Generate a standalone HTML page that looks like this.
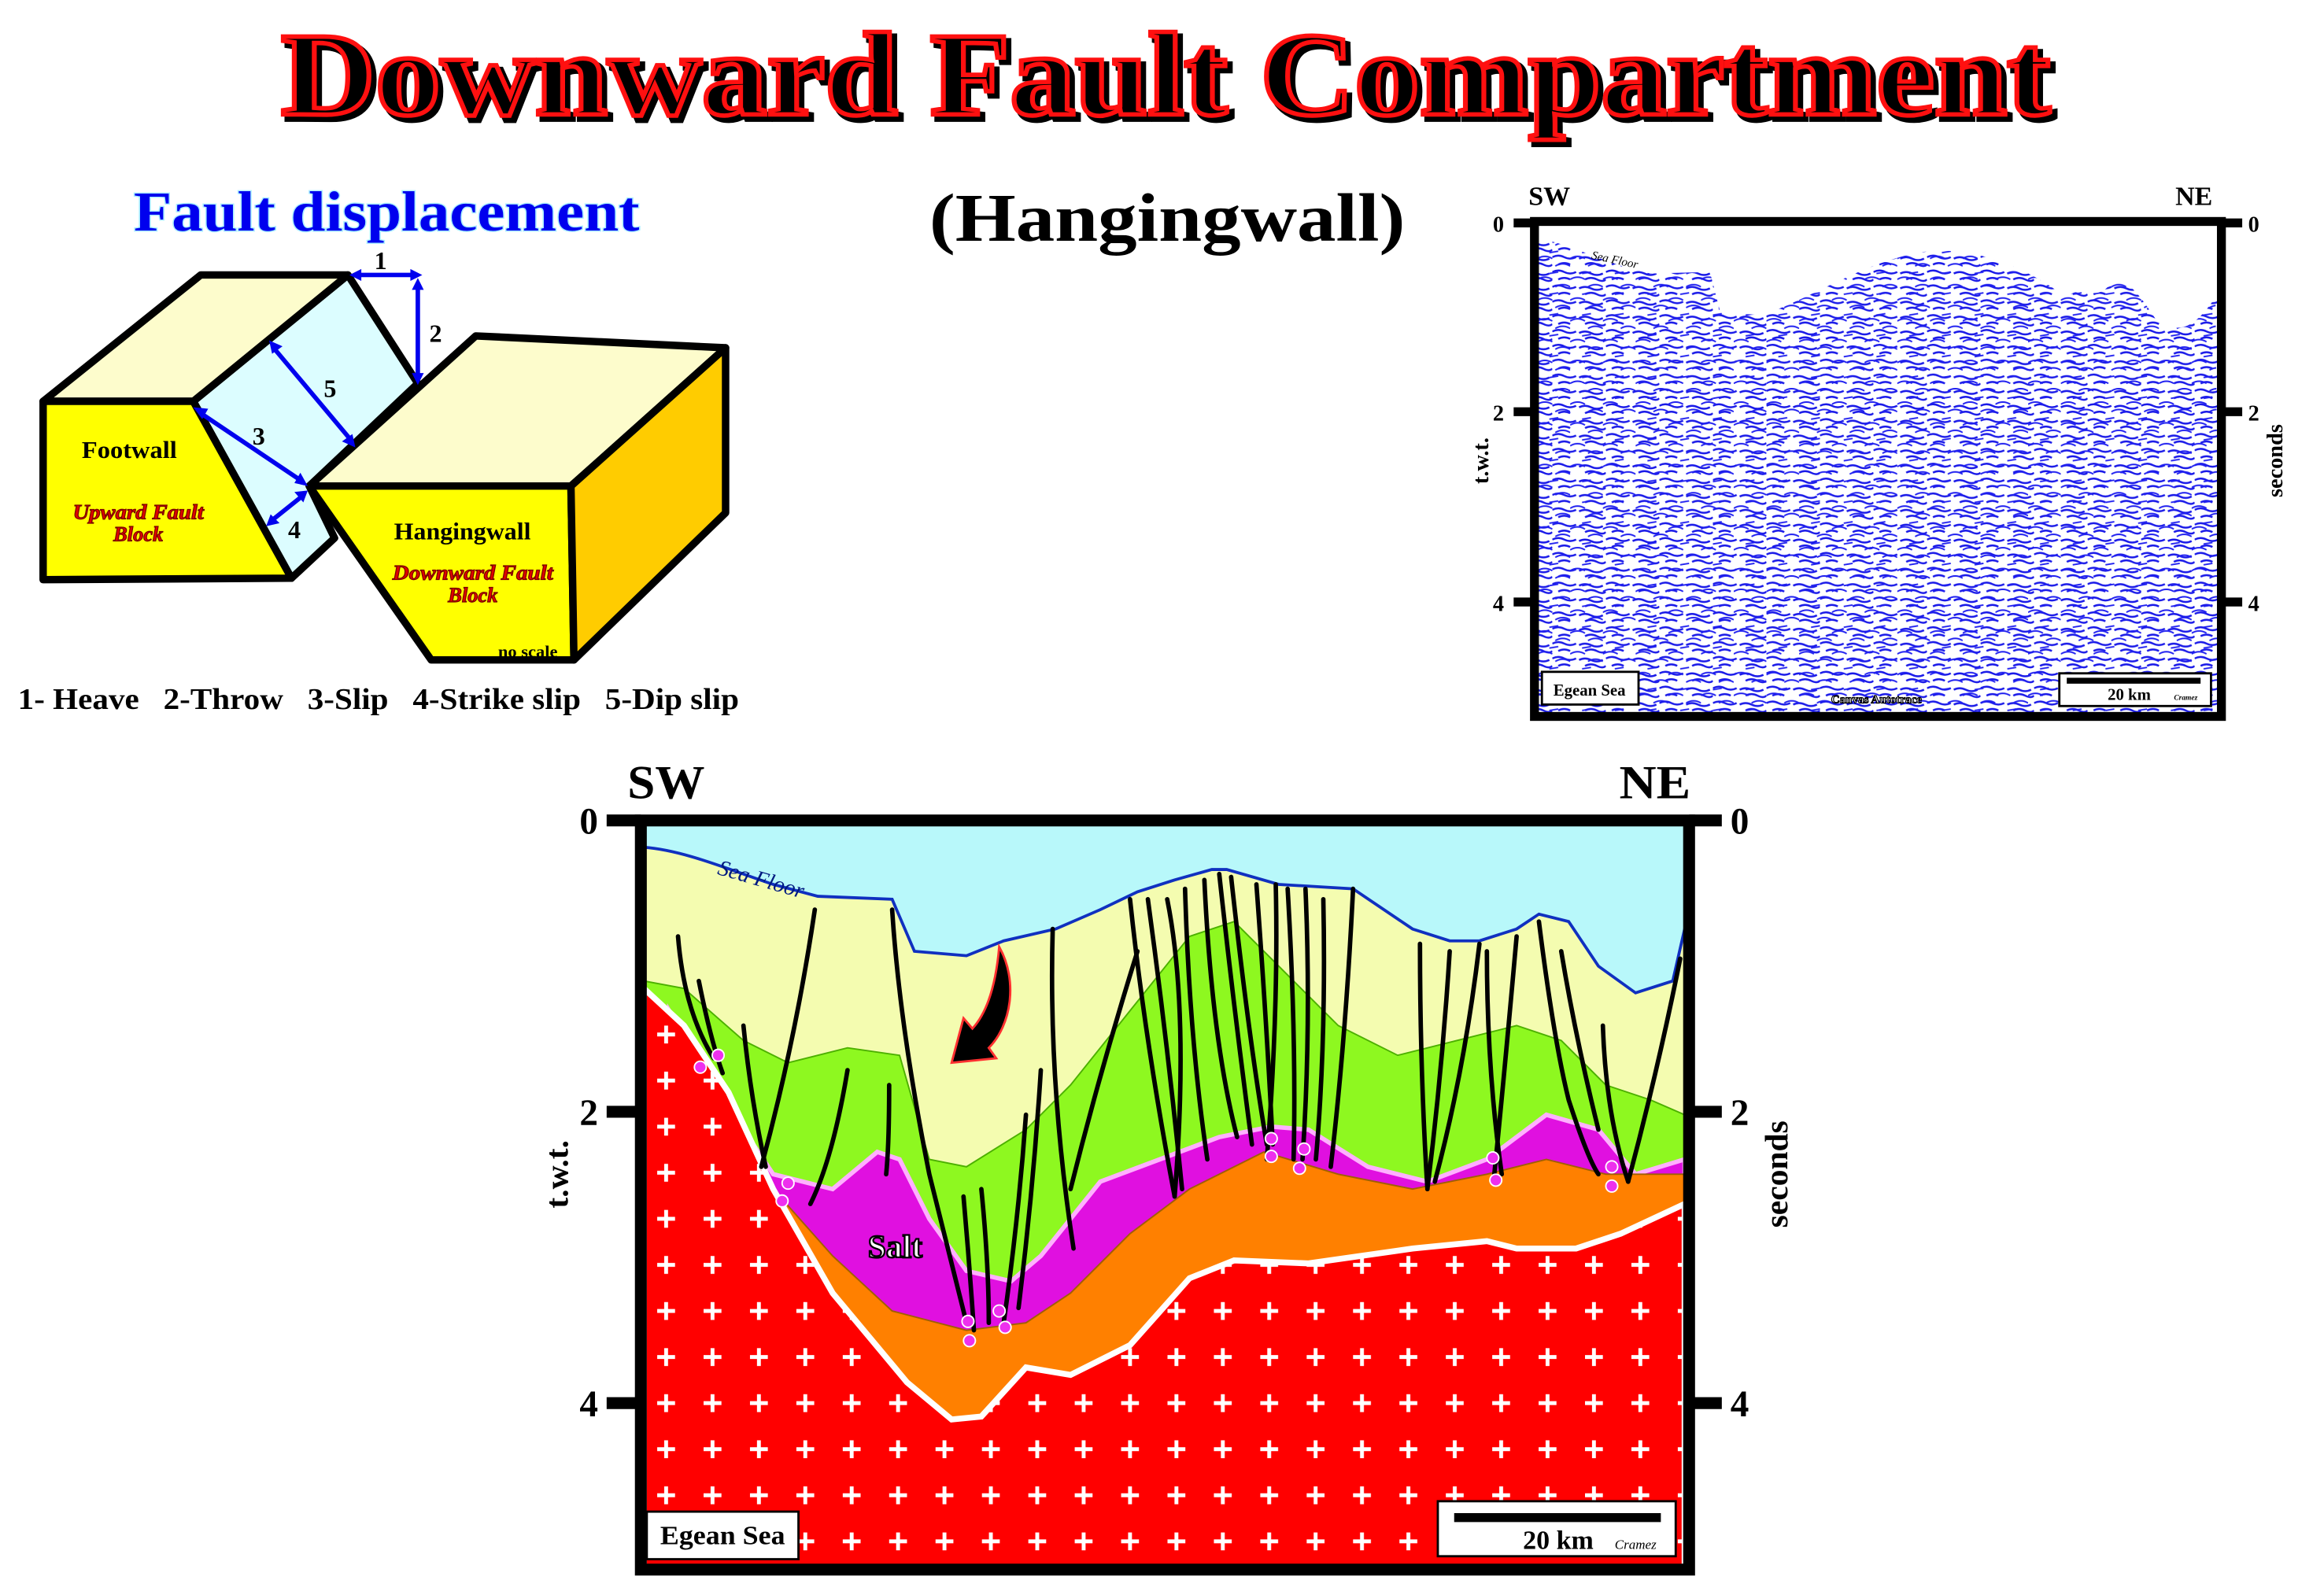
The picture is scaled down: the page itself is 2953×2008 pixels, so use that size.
<!DOCTYPE html>
<html><head><meta charset="utf-8"><style>html,body{margin:0;padding:0;background:#fff;}svg{display:block}</style></head>
<body>
<svg xmlns="http://www.w3.org/2000/svg" width="2953" height="2008" viewBox="0 0 1563 1063" preserveAspectRatio="none" font-family="'Liberation Serif', serif" font-weight="bold">
<defs>
<pattern id="plus" x="433" y="0" width="31.2" height="31" patternUnits="userSpaceOnUse">
<rect width="31.2" height="31" fill="#ff0000"/>
<path d="M9 14h12M15 8v12" stroke="#fff" stroke-width="2.6"/>
</pattern>
<pattern id="seis" width="36" height="10" patternUnits="userSpaceOnUse">
<rect width="36" height="10" fill="#fff"/>
<path d="M0 3 q4 -2 8 0 t8 0 M18 4 q4 -2 8 0 t8 0 M4 8 q4 -2 8 0 M22 8 q4 -2 8 0 t6 0" stroke="#1a1ae8" stroke-width="1.3" fill="none"/>
</pattern>
<pattern id="seis2" width="22" height="14" patternUnits="userSpaceOnUse">
<path d="M0 6 q5 -3 10 0 M12 11 q5 -3 10 0 M8 2 l6 -1" stroke="#2020f0" stroke-width="1" fill="none"/>
</pattern>
</defs>

<text x="787" y="80" text-anchor="middle" font-size="80" textLength="1190" lengthAdjust="spacingAndGlyphs" fill="#000" stroke="#000" stroke-width="4">Downward Fault Compartment</text>
<text x="784" y="77" text-anchor="middle" font-size="80" textLength="1190" lengthAdjust="spacingAndGlyphs" fill="#000" stroke="#ff1010" stroke-width="3">Downward Fault Compartment</text>

<text x="260" y="155" text-anchor="middle" font-size="38" textLength="340" lengthAdjust="spacingAndGlyphs" fill="#0000ee" stroke="#aef" stroke-width="1.5" paint-order="stroke">Fault displacement</text>
<text x="785" y="162" text-anchor="middle" font-size="46" textLength="320" lengthAdjust="spacingAndGlyphs" fill="#000">(Hangingwall)</text>

<g stroke="#000" stroke-width="5" stroke-linejoin="round">
<polygon points="130,270 234,185 281,258 208,327 225,362 196,389" fill="#dcfdff"/>
<polygon points="29,270 135,185 234,185 130,270" fill="#fdfccc"/>
<polygon points="29,270 130,270 196,389 29,390" fill="#ffff00"/>
<polygon points="208,327 320,226 488,234 384,327" fill="#fdfccc"/>
<polygon points="208,327 384,327 386,444 290,444" fill="#ffff00"/>
<polygon points="384,327 488,234 488,345 386,444" fill="#ffcc00"/>
</g>
<g stroke="#0000ee" stroke-width="3" fill="#0000ee">
<line x1="240" y1="185" x2="278" y2="185"/><polygon points="235,185 243,181 243,189" stroke="none"/><polygon points="284,185 276,181 276,189" stroke="none"/>
<line x1="281" y1="193" x2="281" y2="252"/><polygon points="281,187 277,195 285,195" stroke="none"/><polygon points="281,259 277,251 285,251" stroke="none"/>
<line x1="184" y1="234" x2="236" y2="296"/><polygon points="181,229 183,238 190,233" stroke="none"/><polygon points="239,301 230,297 237,292" stroke="none"/>
<line x1="135" y1="278" x2="202" y2="323"/><polygon points="130,274 136,282 140,275" stroke="none"/><polygon points="207,327 198,325 202,318" stroke="none"/>
<line x1="183" y1="350" x2="203" y2="334"/><polygon points="179,354 182,346 188,352" stroke="none"/><polygon points="207,330 198,331 204,338" stroke="none"/>
</g>
<g font-size="17" text-anchor="middle" fill="#000">
<text x="256" y="181">1</text><text x="293" y="230">2</text><text x="222" y="267">5</text><text x="174" y="299">3</text><text x="198" y="362">4</text>
<text x="87" y="308" font-size="16" textLength="64" lengthAdjust="spacingAndGlyphs">Footwall</text>
<text x="311" y="363" font-size="16" textLength="92" lengthAdjust="spacingAndGlyphs">Hangingwall</text>
<text x="355" y="442" font-size="11" textLength="40" lengthAdjust="spacingAndGlyphs">no scale</text>
</g>
<g font-size="14" font-style="italic" text-anchor="middle" fill="#e00000" stroke="#700" stroke-width="0.6">
<text x="93" y="349" textLength="88" lengthAdjust="spacingAndGlyphs">Upward Fault</text><text x="93" y="364">Block</text>
<text x="318" y="390" textLength="108" lengthAdjust="spacingAndGlyphs">Downward Fault</text><text x="318" y="405">Block</text>
</g>
<text x="12" y="477" font-size="20" textLength="485" lengthAdjust="spacingAndGlyphs" xml:space="preserve">1- Heave   2-Throw   3-Slip   4-Strike slip   5-Dip slip</text>

<g>
<path d="M1033,152 L1033,160 C1060,165 1080,178 1110,184 L1150,183 L1157,210 L1185,212 C1220,200 1250,178 1290,170 C1320,165 1350,175 1375,190 L1390,200 C1400,190 1410,205 1420,190 C1430,185 1440,200 1450,215 C1465,225 1475,222 1490,200 L1493,200 L1493,480 L1033,480 Z" fill="url(#seis)"/>
<path d="M1033,160 C1060,165 1080,178 1110,184 L1150,183 L1157,210 L1185,212 C1220,200 1250,178 1290,170 C1320,165 1350,175 1375,190 L1390,200 C1400,190 1410,205 1420,190 C1430,185 1440,200 1450,215 C1465,225 1475,222 1490,200 L1493,480 L1033,480 Z" fill="url(#seis2)"/>
<rect x="1032" y="149" width="462" height="333" fill="none" stroke="#000" stroke-width="6"/>
<g stroke="#000" stroke-width="6">
<line x1="1018" y1="150" x2="1032" y2="150"/><line x1="1018" y1="277" x2="1032" y2="277"/><line x1="1018" y1="405" x2="1032" y2="405"/>
<line x1="1494" y1="150" x2="1508" y2="150"/><line x1="1494" y1="277" x2="1508" y2="277"/><line x1="1494" y1="405" x2="1508" y2="405"/>
</g>
<g font-size="18" fill="#000">
<text x="1028" y="138">SW</text><text x="1463" y="138">NE</text>
<text x="1004" y="156" font-size="15">0</text><text x="1004" y="283" font-size="15">2</text><text x="1004" y="411" font-size="15">4</text>
<text x="1512" y="156" font-size="15">0</text><text x="1512" y="283" font-size="15">2</text><text x="1512" y="411" font-size="15">4</text>
<text transform="translate(1001,310) rotate(-90)" font-size="15" text-anchor="middle">t.w.t.</text>
<text transform="translate(1535,310) rotate(-90)" font-size="15" text-anchor="middle">seconds</text>
</g>
<text transform="translate(1070,174) rotate(12)" font-size="8" font-style="italic" font-weight="normal">Sea Floor</text>
<rect x="1037" y="452" width="65" height="22" fill="#fff" stroke="#000" stroke-width="1.5"/>
<text x="1069" y="468" font-size="11" text-anchor="middle">Egean Sea</text>
<rect x="1385" y="453" width="102" height="22" fill="#fff" stroke="#000" stroke-width="1.5"/>
<line x1="1390" y1="458" x2="1480" y2="458" stroke="#000" stroke-width="4"/>
<text x="1432" y="471" font-size="11" text-anchor="middle">20 km</text>
<text x="1470" y="471" font-size="5" font-style="italic" text-anchor="middle">Cramez</text>
<text x="1262" y="473" font-size="8" text-anchor="middle" fill="#fff" stroke="#000" stroke-width="0.6">Canvas Autotrace</text>
</g>

<g>
<rect x="431" y="552" width="705" height="503" fill="#b8f8fa"/>
<path d="M433,570 C460,572 490,585 520,595 L550,603 L600,605 L615,640 L650,643 L675,633 L710,625 L740,612 L765,600 L790,592 L815,585 L825,585 L860,595 L910,598 L950,625 L975,633 L995,633 L1020,625 L1035,615 L1055,620 L1075,650 L1100,668 L1125,660 L1133,625 L1133,1055 L433,1055 Z" fill="#f4fcb0"/>
<path d="M433,660 L460,665 L500,700 L530,715 L570,705 L605,710 L625,780 L650,785 L690,760 L720,730 L760,680 L800,630 L830,620 L860,650 L900,690 L940,710 L980,700 L1020,690 L1050,700 L1080,730 L1110,740 L1133,750 L1133,1055 L433,1055 Z" fill="#8ef820" stroke="#4cb000" stroke-width="1"/>
<path d="M450,680 L480,730 L520,790 L560,800 L590,775 L605,780 L625,820 L650,855 L680,862 L700,845 L740,795 L780,780 L820,765 L855,758 L880,760 L920,785 L960,795 L1000,780 L1040,750 L1075,760 L1100,790 L1133,780 L1133,1055 L433,1055 Z" fill="#e010e0" stroke="#ffb0ff" stroke-width="3"/>
<path d="M520,800 L560,845 L600,882 L650,895 L690,890 L720,870 L760,830 L800,800 L850,775 L900,790 L950,800 L1000,790 L1040,780 L1080,790 L1133,790 L1133,1055 L433,1055 Z" fill="#ff8000" stroke="#a06000" stroke-width="1"/>
<path d="M433,665 L460,690 L490,735 L520,800 L560,870 L610,930 L640,955 L660,953 L690,920 L720,925 L760,905 L800,860 L830,848 L880,850 L950,840 L1000,835 L1020,840 L1060,840 L1090,830 L1133,810 L1133,1055 L433,1055 Z" fill="url(#plus)" stroke="#fff" stroke-width="4"/>
<path d="M433,570 C460,572 490,585 520,595 L550,603 L600,605 L615,640 L650,643 L675,633 L710,625 L740,612 L765,600 L790,592 L815,585 L825,585 L860,595 L910,598 L950,625 L975,633 L995,633 L1020,625 L1035,615 L1055,620 L1075,650 L1100,668 L1125,660 L1133,625" fill="none" stroke="#1030c0" stroke-width="2"/>
<g fill="none" stroke="#000" stroke-width="3" stroke-linecap="round">
<path d="M456,630 Q460,680 480,712"/><path d="M470,660 Q478,700 486,722"/><path d="M500,690 Q505,740 515,785"/>
<path d="M548,612 Q535,700 512,785"/><path d="M570,720 Q560,780 545,810"/>
<path d="M600,612 Q605,690 625,790 Q640,850 650,890"/><path d="M598,730 Q598,770 596,790"/>
<path d="M648,805 Q652,850 655,895"/><path d="M660,800 Q665,850 665,890"/>
<path d="M690,750 Q685,820 675,890"/><path d="M700,720 Q695,800 685,880"/>
<path d="M708,625 Q705,730 722,840"/><path d="M765,640 Q740,720 720,800"/>
<path d="M760,605 Q770,700 790,805"/><path d="M772,605 Q785,700 795,800"/><path d="M785,605 Q800,680 790,805"/>
<path d="M797,598 Q800,700 812,780"/><path d="M810,592 Q815,700 832,765"/><path d="M820,588 Q830,680 842,770"/>
<path d="M828,590 Q840,700 852,770"/><path d="M845,595 Q852,690 856,770"/><path d="M858,595 Q860,680 852,780"/>
<path d="M866,598 Q872,700 870,780"/><path d="M878,598 Q882,690 876,780"/><path d="M890,605 Q892,700 885,780"/>
<path d="M910,598 Q905,700 895,785"/>
<path d="M955,635 Q955,720 960,800"/><path d="M975,640 Q970,720 960,800"/><path d="M995,635 Q985,720 965,795"/>
<path d="M1000,640 Q1000,720 1010,790"/><path d="M1020,630 Q1012,720 1005,790"/>
<path d="M1035,620 Q1045,700 1055,740 Q1068,780 1075,790"/><path d="M1050,640 Q1060,700 1075,760"/>
<path d="M1078,690 Q1080,750 1095,795"/><path d="M1130,645 Q1115,720 1095,795"/>
</g>
<path d="M672,637 C685,660 680,690 665,705 L670,712 L640,715 L648,685 L654,692 C665,680 670,660 672,637 Z" fill="#000" stroke="#ff3030" stroke-width="1.5"/>
<g fill="#ee30ee" stroke="#fff" stroke-width="1">
<circle cx="471" cy="718" r="4"/><circle cx="483" cy="710" r="4"/><circle cx="526" cy="808" r="4"/><circle cx="530" cy="796" r="4"/>
<circle cx="651" cy="889" r="4"/><circle cx="652" cy="902" r="4"/><circle cx="672" cy="882" r="4"/><circle cx="676" cy="893" r="4"/>
<circle cx="855" cy="766" r="4"/><circle cx="855" cy="778" r="4"/><circle cx="877" cy="773" r="4"/><circle cx="874" cy="786" r="4"/>
<circle cx="1004" cy="779" r="4"/><circle cx="1006" cy="794" r="4"/><circle cx="1084" cy="785" r="4"/><circle cx="1084" cy="798" r="4"/>
</g>
<text x="602" y="846" font-size="22" text-anchor="middle" fill="#fff" stroke="#000" stroke-width="1.2">Salt</text>
<text transform="translate(482,588) rotate(16)" font-size="15" font-style="italic" font-weight="normal" fill="#001a80">Sea Floor</text>
<rect x="435" y="1017" width="102" height="32" fill="#fff" stroke="#000" stroke-width="1.5"/>
<text x="486" y="1039" font-size="18" text-anchor="middle" textLength="84" lengthAdjust="spacingAndGlyphs">Egean Sea</text>
<rect x="967" y="1010" width="160" height="37" fill="#fff" stroke="#000" stroke-width="1.5"/>
<line x1="978" y1="1021" x2="1117" y2="1021" stroke="#000" stroke-width="6"/>
<text x="1048" y="1042" font-size="18" text-anchor="middle">20 km</text>
<text x="1100" y="1042" font-size="9" font-style="italic" font-weight="normal" text-anchor="middle">Cramez</text>
<rect x="431" y="552" width="705" height="504" fill="none" stroke="#000" stroke-width="8"/>
<g stroke="#000" stroke-width="8">
<line x1="408" y1="552" x2="431" y2="552"/><line x1="408" y1="748" x2="431" y2="748"/><line x1="408" y1="944" x2="431" y2="944"/>
<line x1="1136" y1="552" x2="1158" y2="552"/><line x1="1136" y1="748" x2="1158" y2="748"/><line x1="1136" y1="944" x2="1158" y2="944"/>
</g>
<g fill="#000">
<text x="448" y="537" font-size="32" text-anchor="middle" textLength="52" lengthAdjust="spacingAndGlyphs">SW</text><text x="1113" y="537" font-size="32" text-anchor="middle" textLength="48" lengthAdjust="spacingAndGlyphs">NE</text>
<text x="396" y="561" font-size="25" text-anchor="middle">0</text><text x="396" y="757" font-size="25" text-anchor="middle">2</text><text x="396" y="953" font-size="25" text-anchor="middle">4</text>
<text x="1170" y="561" font-size="25" text-anchor="middle">0</text><text x="1170" y="757" font-size="25" text-anchor="middle">2</text><text x="1170" y="953" font-size="25" text-anchor="middle">4</text>
<text transform="translate(382,790) rotate(-90)" font-size="22" text-anchor="middle">t.w.t.</text>
<text transform="translate(1202,790) rotate(-90)" font-size="22" text-anchor="middle">seconds</text>
</g>
</g>
</svg>
</body></html>
